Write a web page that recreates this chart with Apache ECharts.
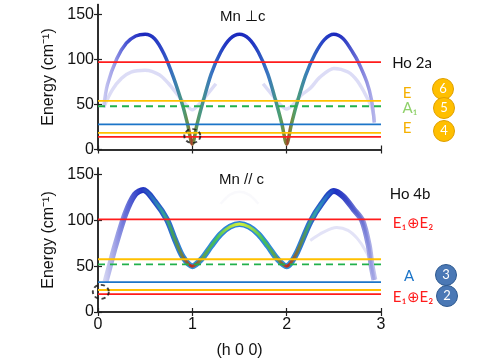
<!DOCTYPE html>
<html>
<head>
<meta charset="utf-8">
<script src="https://cdn.jsdelivr.net/npm/echarts@6/dist/echarts.min.js"></script>
<style>
  html, body { margin: 0; padding: 0; background: #fff; }
  #chart { width: 480px; height: 360px; }
</style>
</head>
<body>
<div id="chart"></div>
<script>
// x positions (h 0 0) and energies (cm-1)
const xTicks = [0, 1, 2, 3];
const yTicks = [0, 50, 100, 150];

// top panel, Mn perpendicular to c
const upperMainH = [0.06, 0.1, 0.2, 0.3, 0.4, 0.5, 0.6, 0.7, 0.8, 0.9, 0.95, 1.0, 1.05, 1.1, 1.2, 1.3, 1.4, 1.5, 1.6, 1.7, 1.8, 1.9, 1.95, 2.0, 2.05, 2.1, 2.2, 2.3, 2.4, 2.5, 2.6, 2.7, 2.76, 2.85, 2.9, 2.93];
const upperMainE = [47, 72, 101, 118, 126, 128, 123, 106, 80, 48, 28, 6, 28, 48, 84, 108, 123, 128, 123, 108, 84, 48, 28, 6, 28, 48, 82, 106, 122, 128, 123, 108, 97, 75, 55, 30];
const upperFaintLeftH = [0.06, 0.15, 0.25, 0.35, 0.5, 0.65, 0.75, 0.85, 0.93, 1.0, 1.07, 1.15, 1.25];
const upperFaintLeftE = [47, 66, 79, 86, 88, 83, 73, 60, 50, 44, 50, 60, 73];
const upperFaintRightH = [1.75, 1.85, 1.93, 2.0, 2.07, 2.15, 2.25, 2.35, 2.5, 2.65, 2.75, 2.85, 2.91, 2.93];
const upperFaintRightE = [73, 60, 50, 45, 50, 60, 68, 80, 90, 86, 76, 58, 44, 30];
const upperLevels = [97, 54, 48, 28, 18.5, 14];
const upperCircleH = [1.0];
const upperCircleE = [15];

// bottom panel, Mn parallel to c
const lowerMainH = [0.08, 0.13, 0.18, 0.29, 0.39, 0.48, 0.6, 0.73, 0.82, 0.9, 1.0, 1.1, 1.2, 1.3, 1.4, 1.5, 1.6, 1.7, 1.8, 1.9, 2.0, 2.04, 2.11, 2.25, 2.37, 2.5, 2.6, 2.71, 2.8, 2.87, 2.9, 2.93];
const lowerMainE = [33, 52, 71, 107, 128, 133, 121, 101, 78, 60, 50, 58, 72, 85, 93, 96, 93, 85, 72, 58, 50, 53, 65, 98, 118, 132, 126, 112, 100, 73, 51, 35];
const lowerGhostH = [1.3, 1.4, 1.5, 1.6, 1.7];
const lowerGhostE = [118, 128, 131, 128, 118];
const lowerFaintH = [2.25, 2.39, 2.53, 2.65, 2.75, 2.83, 2.89, 2.93];
const lowerFaintE = [78, 87, 92, 89, 80, 68, 55, 35];
const lowerLevels = [101, 57.5, 52, 32.5, 24, 19.5];
const lowerCircleH = [0.03];
const lowerCircleE = [22];

const levelColors = ['#ff1c1c', '#ffc000', '#22b14c', '#1c75c8', '#ffc000', '#ff1c1c'];
const dashedLevel = 2;

const pairs = (xs, ys) => xs.map((x, i) => [x, ys[i]]);

// colour along the band (by h), like the intensity colouring in the figure
const gradientAlong = (hs, stops) => {
  const lo = Math.min(...hs), hi = Math.max(...hs);
  return new echarts.graphic.LinearGradient(0, 0, 1, 0, stops.map(([h, c]) => ({
    offset: Math.min(1, Math.max(0, (h - lo) / (hi - lo))),
    color: c
  })));
};

const upperBandColor = gradientAlong(upperMainH, [
  [0.06, '#d6d6f4'], [0.2, '#9a9ae6'], [0.32, '#4a56d4'], [0.5, '#1a26bc'], [0.7, '#2f48c8'],
  [0.82, '#3a7ab8'], [0.92, '#4c9a78'], [0.97, '#6c8a40'], [1.0, '#a8402a'], [1.03, '#6c8a40'],
  [1.08, '#4c9a78'], [1.2, '#3a78c0'], [1.35, '#2238c4'], [1.5, '#1a26bc'], [1.65, '#2238c4'],
  [1.8, '#3a78c0'], [1.92, '#4ca070'], [1.97, '#7a8a3a'], [2.0, '#a04028'], [2.03, '#7a8a3a'],
  [2.08, '#4ca070'], [2.2, '#3a80b8'], [2.35, '#2a48c8'], [2.5, '#1a26bc'], [2.62, '#3a48c8'],
  [2.75, '#7676da'], [2.93, '#c0c0ee']
]);

const lowerEdgeColor = gradientAlong(lowerMainH, [
  [0.08, '#dadaf4'], [0.3, '#7a82dc'], [0.48, '#2030c0'], [0.7, '#2a60c8'], [1.0, '#3090d8'],
  [1.5, '#2a80d8'], [2.0, '#3090d8'], [2.3, '#2a60c8'], [2.5, '#2030c0'], [2.75, '#7a80d6'], [2.93, '#cacaf0']
]);

const lowerInnerColor = gradientAlong(lowerMainH, [
  [0.08, '#dadaf4'], [0.2, '#a4a4e6'], [0.3, '#6a72da'], [0.48, '#2a3ac4'], [0.6, '#2a70c0'],
  [0.7, '#30a0a0'], [0.8, '#40a060'], [0.9, '#708040'], [0.96, '#a05030'], [1.0, '#c02a1c'],
  [1.04, '#a05030'], [1.12, '#60a050'], [1.25, '#40c060'], [1.4, '#a8e040'], [1.5, '#d0f040'],
  [1.6, '#a8e040'], [1.75, '#40c060'], [1.88, '#60a050'], [1.96, '#a05030'], [2.0, '#c02a1c'],
  [2.04, '#a05030'], [2.12, '#708040'], [2.2, '#40a070'], [2.3, '#30a0b0'], [2.4, '#2a70c8'],
  [2.5, '#1e32c4'], [2.62, '#3a48c8'], [2.78, '#6a72d4'], [2.93, '#b4b4ea']
]);

const chart = echarts.init(document.getElementById('chart'));

const frame = { lineStyle: { color: '#222', width: 1.5 } };
const tickFont = { fontFamily: 'Liberation Sans', fontSize: 16, color: '#111' };
const nameFont = { fontFamily: 'Liberation Sans', fontSize: 16, color: '#111' };

const xAxis = (grid, pos, labels) => ({
  gridIndex: grid, type: 'value', position: pos, min: 0, max: 3, interval: 1,
  axisLine: frame, splitLine: { show: false },
  axisTick: { inside: true, length: 4, customValues: xTicks, lineStyle: { color: '#222', width: 1.2 } },
  axisLabel: labels ? { ...tickFont, margin: 5, customValues: xTicks } : { show: false },
  name: labels ? '(h 0 0)' : '', nameLocation: 'middle', nameGap: 31, nameTextStyle: nameFont
});

const yAxis = (grid, pos, max) => ({
  gridIndex: grid, type: 'value', position: pos, min: 0, max: max, interval: 50,
  axisLine: frame, splitLine: { show: false },
  axisTick: { inside: true, length: 4, customValues: yTicks, lineStyle: { color: '#222', width: 1.2 } },
  axisLabel: pos === 'left' ? { ...tickFont, margin: 4, customValues: yTicks } : { show: false },
  name: pos === 'left' ? 'Energy (cm\u207B\u00B9)' : '', nameLocation: 'middle', nameGap: 40,
  nameTextStyle: nameFont
});

const levelSeries = (levels, xi, yi) => levels.map((e, i) => ({
  type: 'line', xAxisIndex: xi, yAxisIndex: yi, symbol: 'none', silent: true, z: 5,
  data: [[xTicks[0], e], [xTicks[xTicks.length - 1], e]],
  lineStyle: { color: levelColors[i], width: 1.8, type: i === dashedLevel ? [7, 5] : 'solid' }
}));

const band = (xs, ys, xi, yi, color, width, opacity, z) => ({
  type: 'line', xAxisIndex: xi, yAxisIndex: yi, symbol: 'none', smooth: 0.3,
  silent: true, z: z, data: pairs(xs, ys),
  lineStyle: { color: color, width: width, opacity: opacity, cap: 'butt', join: 'round' }
});

const circle = (xs, ys, xi, yi) => ({
  type: 'scatter', xAxisIndex: xi, yAxisIndex: yi, symbol: 'circle', symbolSize: [16, 14],
  clip: false, silent: true, z: 8, data: pairs(xs, ys),
  itemStyle: { color: 'rgba(0,0,0,0)', borderColor: '#111', borderWidth: 1.8, borderType: [4, 3] }
});

const label = (x, y, text, color, size) => ({
  type: 'text', x: x, y: y, silent: true,
  style: { text: text, fill: color, font: size + 'px Lato', align: 'center', verticalAlign: 'middle' }
});

const badge = (x, y, num, fill, stroke) => ({
  type: 'group', x: x, y: y, silent: true,
  children: [
    { type: 'circle', shape: { cx: 0, cy: 0, r: 10.5 }, style: { fill: fill, stroke: stroke, lineWidth: 1 } },
    { type: 'text', x: 0, y: 0, style: { text: num, fill: '#fff', font: '13px Lato', align: 'center', verticalAlign: 'middle' } }
  ]
});

chart.setOption({
  animation: false,
  backgroundColor: '#fff',
  grid: [
    { left: 98, top: 4.5, width: 283, height: 145 },
    { left: 98, top: 168, width: 283, height: 146 }
  ],
  xAxis: [xAxis(0, 'bottom', false), xAxis(0, 'top', false), xAxis(1, 'bottom', true), xAxis(1, 'top', false)],
  yAxis: [yAxis(0, 'left', 161), yAxis(0, 'right', 161), yAxis(1, 'left', 157), yAxis(1, 'right', 157)],
  series: [
    band(upperFaintLeftH, upperFaintLeftE, 0, 0, '#8a8ae0', 3.5, 0.3, 2),
    band(upperFaintRightH, upperFaintRightE, 0, 0, '#8a8ae0', 3.5, 0.3, 2),
    band(upperMainH, upperMainE, 0, 0, upperBandColor, 3.5, 1, 3),
    band(lowerGhostH, lowerGhostE, 2, 2, '#c0c0e6', 2.5, 0.1, 2),
    band(lowerFaintH, lowerFaintE, 2, 2, '#9090e0', 3, 0.25, 2),
    band(lowerMainH, lowerMainE, 2, 2, lowerEdgeColor, 6, 1, 3),
    band(lowerMainH, lowerMainE, 2, 2, lowerInnerColor, 3, 1, 4),
    ...levelSeries(upperLevels, 0, 0),
    ...levelSeries(lowerLevels, 2, 2),
    circle(upperCircleH, upperCircleE, 0, 0),
    circle(lowerCircleH, lowerCircleE, 2, 2)
  ],
  graphic: [
    { type: 'text', x: 220, y: 17, style: { text: 'Mn \u22A5c', fill: '#111', font: '15px Liberation Sans', verticalAlign: 'middle' } },
    { type: 'text', x: 219, y: 180, style: { text: 'Mn // c', fill: '#111', font: '15px Liberation Sans', verticalAlign: 'middle' } },
    label(412, 63, 'Ho 2a', '#111', 15),
    label(407, 93, 'E', '#f5b000', 15),
    label(410, 108, 'A\u2081', '#8fd16a', 15),
    label(407, 128, 'E', '#f5b000', 15),
    badge(443, 89, '6', '#ffbf00', '#e0a000'),
    badge(444, 108, '5', '#ffbf00', '#e0a000'),
    badge(444, 131, '4', '#ffbf00', '#e0a000'),
    label(410, 194, 'Ho 4b', '#111', 15),
    label(413, 223, 'E\u2081\u2295E\u2082', '#ff1c1c', 15),
    label(409, 276, 'A', '#1c75c8', 15),
    label(413, 297, 'E\u2081\u2295E\u2082', '#ff1c1c', 15),
    badge(446, 275, '3', '#4a78b5', '#2f5a90'),
    badge(447, 296, '2', '#4a78b5', '#2f5a90')
  ]
});
</script>
</body>
</html>
